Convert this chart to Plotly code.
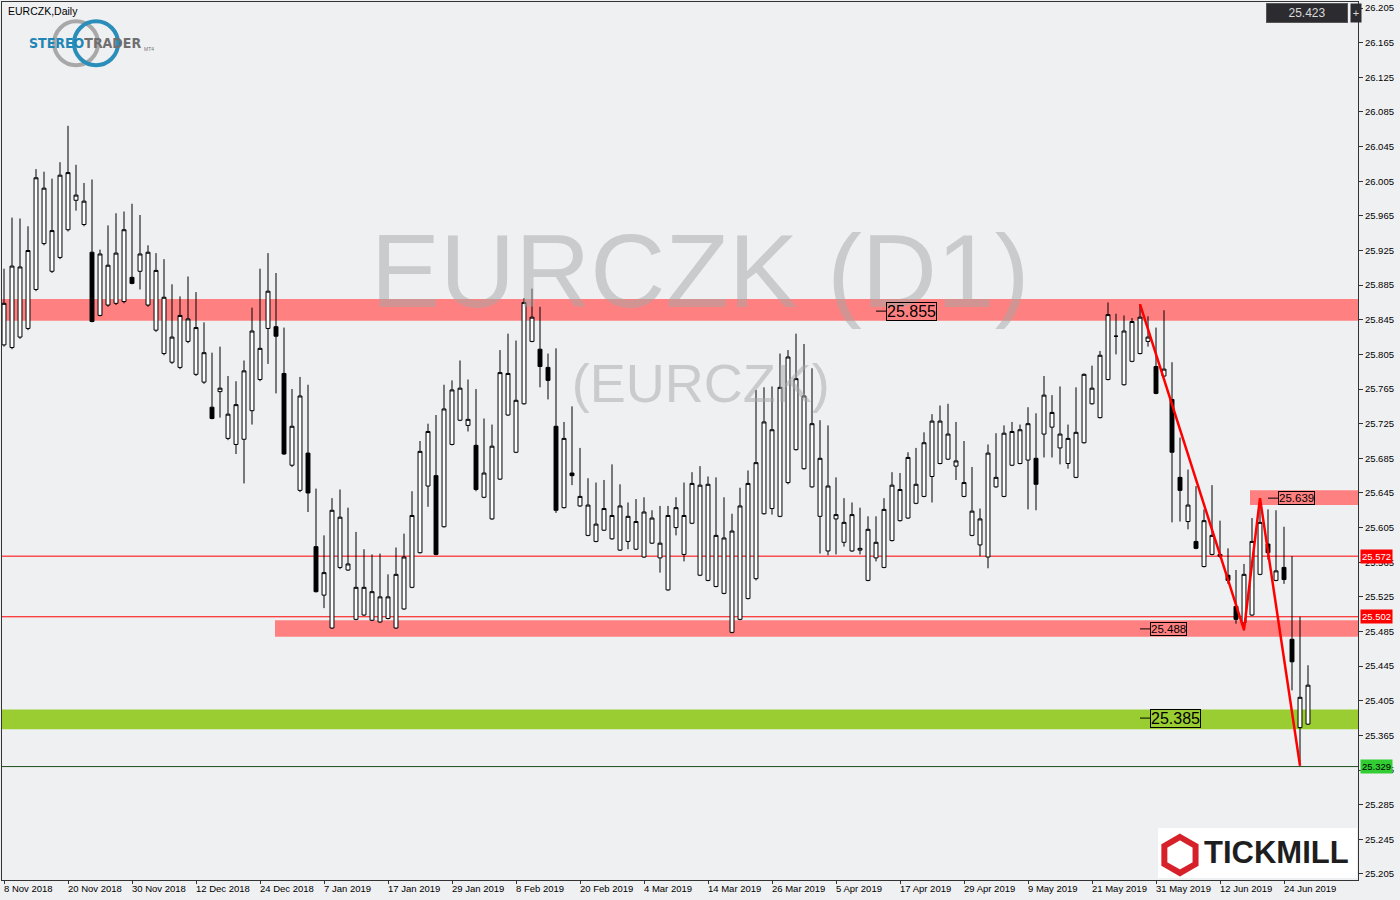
import plotly.graph_objects as go

# ---------------- data (EURCZK daily, 8 Nov 2018 - 27 Jun 2019) ----------------
open_ = [25.816, 25.813, 25.825, 25.835, 25.880, 25.933, 25.901, 25.917, 25.949, 25.983,
         25.955, 25.923, 25.850, 25.862, 25.864, 25.866, 25.894, 25.901, 25.862, 25.833,
         25.806, 25.796, 25.790, 25.820, 25.782, 25.773, 25.744, 25.762, 25.708, 25.701,
         25.707, 25.740, 25.776, 25.835, 25.837, 25.783, 25.677, 25.648, 25.691, 25.583,
         25.527, 25.489, 25.559, 25.556, 25.499, 25.504, 25.498, 25.496, 25.500, 25.489,
         25.511, 25.536, 25.576, 25.653, 25.665, 25.606, 25.701, 25.729, 25.723, 25.700,
         25.640, 25.615, 25.661, 25.735, 25.692, 25.748, 25.820, 25.811, 25.790, 25.722,
         25.628, 25.668, 25.630, 25.596, 25.589, 25.602, 25.592, 25.579, 25.589, 25.580,
         25.571, 25.587, 25.570, 25.533, 25.605, 25.574, 25.610, 25.550, 25.544, 25.537,
         25.529, 25.484, 25.499, 25.523, 25.546, 25.621, 25.627, 25.618, 25.657, 25.695,
         25.673, 25.652, 25.618, 25.578, 25.615, 25.588, 25.578, 25.579, 25.544, 25.570,
         25.559, 25.590, 25.613, 25.616, 25.633, 25.641, 25.664, 25.679, 25.684, 25.676,
         25.641, 25.596, 25.585, 25.571, 25.652, 25.641, 25.677, 25.679, 25.683, 25.685,
         25.713, 25.721, 25.697, 25.679, 25.663, 25.703, 25.748, 25.732, 25.776, 25.826,
         25.770, 25.797, 25.806, 25.820, 25.791, 25.780, 25.753, 25.663, 25.612, 25.589,
         25.560, 25.574, 25.574, 25.550, 25.514, 25.495, 25.504, 25.551, 25.586, 25.544,
         25.559, 25.476, 25.374, 25.378]
high = [25.904, 25.963, 25.962, 25.953, 26.019, 26.016, 26.008, 26.027, 26.069, 26.024,
        26.003, 26.007, 25.926, 25.954, 25.968, 25.970, 25.979, 25.966, 25.931, 25.922,
        25.915, 25.886, 25.872, 25.895, 25.877, 25.842, 25.807, 25.814, 25.780, 25.774,
        25.798, 25.859, 25.904, 25.922, 25.899, 25.836, 25.765, 25.779, 25.770, 25.650,
        25.596, 25.639, 25.649, 25.628, 25.600, 25.580, 25.574, 25.575, 25.551, 25.582,
        25.598, 25.647, 25.705, 25.725, 25.735, 25.770, 25.775, 25.798, 25.776, 25.765,
        25.731, 25.724, 25.810, 25.829, 25.821, 25.870, 25.881, 25.860, 25.806, 25.812,
        25.727, 25.745, 25.697, 25.662, 25.657, 25.660, 25.678, 25.655, 25.634, 25.638,
        25.640, 25.625, 25.630, 25.630, 25.640, 25.657, 25.669, 25.676, 25.664, 25.663,
        25.640, 25.621, 25.651, 25.671, 25.764, 25.767, 25.768, 25.806, 25.810, 25.829,
        25.817, 25.789, 25.729, 25.723, 25.663, 25.639, 25.634, 25.628, 25.618, 25.618,
        25.639, 25.669, 25.668, 25.692, 25.697, 25.715, 25.736, 25.746, 25.748, 25.727,
        25.705, 25.675, 25.627, 25.701, 25.714, 25.723, 25.727, 25.724, 25.744, 25.737,
        25.780, 25.758, 25.768, 25.724, 25.767, 25.783, 25.792, 25.809, 25.865, 25.852,
        25.850, 25.847, 25.863, 25.849, 25.836, 25.856, 25.796, 25.709, 25.672, 25.653,
        25.626, 25.654, 25.613, 25.581, 25.556, 25.563, 25.616, 25.639, 25.626, 25.625,
        25.606, 25.572, 25.502, 25.446]
low = [25.814, 25.811, 25.823, 25.833, 25.878, 25.931, 25.899, 25.915, 25.947, 25.971,
       25.953, 25.842, 25.849, 25.860, 25.862, 25.864, 25.886, 25.880, 25.860, 25.831,
       25.804, 25.794, 25.788, 25.818, 25.780, 25.771, 25.730, 25.732, 25.706, 25.690,
       25.656, 25.724, 25.774, 25.794, 25.760, 25.689, 25.675, 25.646, 25.623, 25.530,
       25.512, 25.488, 25.557, 25.555, 25.498, 25.503, 25.497, 25.495, 25.499, 25.488,
       25.510, 25.535, 25.575, 25.629, 25.573, 25.605, 25.700, 25.728, 25.716, 25.647,
       25.639, 25.614, 25.660, 25.734, 25.691, 25.747, 25.819, 25.767, 25.753, 25.622,
       25.627, 25.654, 25.629, 25.595, 25.588, 25.601, 25.591, 25.578, 25.580, 25.579,
       25.570, 25.586, 25.553, 25.532, 25.596, 25.566, 25.609, 25.549, 25.543, 25.536,
       25.528, 25.483, 25.498, 25.522, 25.544, 25.620, 25.620, 25.617, 25.655, 25.694,
       25.672, 25.651, 25.575, 25.573, 25.574, 25.583, 25.577, 25.574, 25.543, 25.566,
       25.558, 25.589, 25.612, 25.615, 25.632, 25.640, 25.634, 25.678, 25.683, 25.660,
       25.640, 25.595, 25.572, 25.558, 25.651, 25.640, 25.676, 25.678, 25.626, 25.625,
       25.686, 25.686, 25.678, 25.673, 25.662, 25.702, 25.747, 25.731, 25.775, 25.805,
       25.769, 25.796, 25.805, 25.814, 25.759, 25.779, 25.611, 25.612, 25.603, 25.580,
       25.559, 25.573, 25.570, 25.540, 25.494, 25.486, 25.503, 25.550, 25.568, 25.543,
       25.540, 25.417, 25.330, 25.377]
close = [25.864, 25.907, 25.906, 25.925, 26.009, 25.997, 25.948, 26.012, 26.015, 25.989,
         25.982, 25.843, 25.921, 25.908, 25.922, 25.949, 25.887, 25.921, 25.923, 25.902,
         25.871, 25.825, 25.850, 25.846, 25.836, 25.807, 25.731, 25.766, 25.736, 25.747,
         25.786, 25.832, 25.812, 25.878, 25.826, 25.690, 25.722, 25.757, 25.645, 25.531,
         25.553, 25.625, 25.617, 25.563, 25.536, 25.536, 25.531, 25.525, 25.525, 25.551,
         25.571, 25.619, 25.693, 25.716, 25.574, 25.742, 25.764, 25.766, 25.730, 25.649,
         25.668, 25.699, 25.784, 25.783, 25.752, 25.865, 25.848, 25.791, 25.775, 25.625,
         25.708, 25.665, 25.641, 25.631, 25.609, 25.627, 25.619, 25.630, 25.618, 25.612,
         25.623, 25.616, 25.587, 25.619, 25.628, 25.619, 25.656, 25.654, 25.655, 25.596,
         25.593, 25.601, 25.630, 25.656, 25.680, 25.727, 25.718, 25.767, 25.802, 25.777,
         25.757, 25.725, 25.685, 25.653, 25.620, 25.611, 25.620, 25.581, 25.603, 25.588,
         25.626, 25.654, 25.649, 25.686, 25.655, 25.703, 25.728, 25.728, 25.713, 25.682,
         25.657, 25.624, 25.615, 25.691, 25.663, 25.714, 25.716, 25.718, 25.725, 25.655,
         25.758, 25.738, 25.713, 25.708, 25.715, 25.782, 25.766, 25.804, 25.851, 25.826,
         25.832, 25.843, 25.848, 25.825, 25.760, 25.788, 25.692, 25.648, 25.631, 25.581,
         25.613, 25.596, 25.572, 25.544, 25.499, 25.551, 25.589, 25.611, 25.576, 25.555,
         25.545, 25.450, 25.409, 25.423]

# date labels (every 8th trading day)
date_label_index = [0, 8, 16, 24, 32, 40, 48, 56, 64, 72, 80, 88, 96, 104, 112, 120, 128, 136, 144, 152, 160]
date_labels = ["8 Nov 2018", "20 Nov 2018", "30 Nov 2018", "12 Dec 2018", "24 Dec 2018", "7 Jan 2019",
               "17 Jan 2019", "29 Jan 2019", "8 Feb 2019", "20 Feb 2019", "4 Mar 2019", "14 Mar 2019",
               "26 Mar 2019", "5 Apr 2019", "17 Apr 2019", "29 Apr 2019", "9 May 2019", "21 May 2019",
               "31 May 2019", "12 Jun 2019", "24 Jun 2019"]

price_ticks = [25.205, 25.245, 25.285, 25.325, 25.365, 25.405, 25.445, 25.485, 25.525, 25.565,
               25.605, 25.645, 25.685, 25.725, 25.765, 25.805, 25.845, 25.885, 25.925, 25.965,
               26.005, 26.045, 26.085, 26.125, 26.165, 26.205]
price_tick_text = ["%.3f" % v for v in price_ticks]

# support / resistance zones (low, high)
zone_top = (25.844, 25.869)
zone_mid = (25.479, 25.498)
zone_small = (25.631, 25.648)
zone_green = (25.372, 25.395)
red_lines = [25.572, 25.502]
green_line = 25.329
last_price = 25.423

# trend line points (candle index, price)
trend_x = [142, 155, 157, 162]
trend_y = [25.863, 25.487, 25.639, 25.330]

x_idx = list(range(len(close)))

X_MIN, X_MAX = -0.25, 169.25
Y_MIN, Y_MAX = 25.198, 26.212

BG = "#EFF0F2"
FONT = "Liberation Sans"

fig = go.Figure()

# watermark (below candles)
fig.add_trace(go.Scatter(x=[87], y=[25.890], mode="text", text=["EURCZK (D1)"],
                         textfont=dict(family=FONT, size=104, color="rgba(165,165,165,0.5)"),
                         hoverinfo="skip", showlegend=False))
fig.add_trace(go.Scatter(x=[87.1], y=[25.766], mode="text", text=["(EURCZK)"],
                         textfont=dict(family=FONT, size=54, color="rgba(165,165,165,0.5)"),
                         hoverinfo="skip", showlegend=False))

fig.add_trace(go.Candlestick(
    x=x_idx, open=open_, high=high, low=low, close=close,
    increasing=dict(line=dict(color="black", width=1), fillcolor="white"),
    decreasing=dict(line=dict(color="black", width=1), fillcolor="black"),
    whiskerwidth=0, showlegend=False, hoverinfo="skip"))

fig.add_trace(go.Scatter(x=trend_x, y=trend_y, mode="lines",
                         line=dict(color="#FF0000", width=2.5),
                         hoverinfo="skip", showlegend=False))

shapes = []
# zones
shapes.append(dict(type="rect", xref="x", yref="y", x0=X_MIN, x1=X_MAX, y0=zone_top[0], y1=zone_top[1],
                   fillcolor="#FF8080", line=dict(width=0), layer="below"))
shapes.append(dict(type="rect", xref="x", yref="y", x0=33.875, x1=X_MAX, y0=zone_mid[0], y1=zone_mid[1],
                   fillcolor="#FF8080", line=dict(width=0), layer="below"))
shapes.append(dict(type="rect", xref="x", yref="y", x0=155.75, x1=X_MAX, y0=zone_small[0], y1=zone_small[1],
                   fillcolor="#FF8080", line=dict(width=0), layer="below"))
shapes.append(dict(type="rect", xref="x", yref="y", x0=X_MIN, x1=X_MAX, y0=zone_green[0], y1=zone_green[1],
                   fillcolor="#9ACD32", line=dict(width=0), layer="below"))
for v in red_lines:
    shapes.append(dict(type="line", xref="x", yref="y", x0=X_MIN, x1=X_MAX, y0=v, y1=v,
                       line=dict(color="#FF0000", width=1), layer="below"))
shapes.append(dict(type="line", xref="x", yref="y", x0=X_MIN, x1=X_MAX, y0=green_line, y1=green_line,
                   line=dict(color="#1E4D1E", width=1), layer="below"))

# level labels with leader lines
level_labels = [
    (109.0, 110.25, 25.855, "25.855", 16),
    (142.0, 143.25, 25.488, "25.488", 11.5),
    (158.0, 159.25, 25.639, "25.639", 11.5),
    (142.0, 143.25, 25.385, "25.385", 16),
]
annotations = []
for x0, x1, yv, txt, fs in level_labels:
    shapes.append(dict(type="line", xref="x", yref="y", x0=x0, x1=x1, y0=yv, y1=yv,
                       line=dict(color="black", width=1)))
    annotations.append(dict(x=x1, y=yv, xref="x", yref="y", text=txt, showarrow=False,
                            xanchor="left", yanchor="middle", font=dict(family=FONT, size=fs, color="black"),
                            bordercolor="black", borderwidth=1, borderpad=0))

# right axis price boxes
for yv, bg, fc in [(25.572, "#FF0000", "white"), (25.502, "#FF0000", "white"), (25.329, "#32CD32", "black")]:
    annotations.append(dict(x=1, y=yv, xref="paper", yref="y", text="%.3f" % yv, showarrow=False,
                            xanchor="left", yanchor="middle", xshift=2,
                            font=dict(family=FONT, size=9.5, color=fc), bgcolor=bg, borderpad=1))

# date labels
for i, t in zip(date_label_index, date_labels):
    annotations.append(dict(x=i, y=0, xref="x", yref="paper", text=t, showarrow=False,
                            xanchor="left", yanchor="top", xshift=-2, yshift=-1,
                            font=dict(family=FONT, size=9.5, color="black")))

# title
annotations.append(dict(x=0, y=1, xref="paper", yref="paper", text="EURCZK,Daily", showarrow=False,
                        xanchor="left", yanchor="top", xshift=4, yshift=-1,
                        font=dict(family=FONT, size=10.5, color="black")))

# top-right price box
annotations.append(dict(x=0.9627, y=0.9875, xref="paper", yref="paper", text="25.423", showarrow=False,
                        xanchor="center", yanchor="middle", width=78, height=16,
                        font=dict(family=FONT, size=12, color="#DADADA"),
                        bgcolor="#2C2C30", bordercolor="#555555", borderwidth=1))
annotations.append(dict(x=0.9985, y=0.9875, xref="paper", yref="paper", text="+", showarrow=False,
                        xanchor="center", yanchor="middle", width=8, height=16,
                        font=dict(family=FONT, size=11, color="#DADADA"), bgcolor="#2C2C30"))

# StereoTrader logo
shapes.append(dict(type="circle", xref="paper", yref="paper", x0=0.0384, x1=0.0708, y0=0.928, y1=0.978,
                   line=dict(color="#A8A8A8", width=4)))
shapes.append(dict(type="circle", xref="paper", yref="paper", x0=0.0531, x1=0.0856, y0=0.928, y1=0.978,
                   line=dict(color="#2B8DBA", width=4)))
annotations.append(dict(x=0.0185, y=0.953, xref="paper", yref="paper",
                        text="<b><span style='color:#1F86B5'>STEREO</span><span style='color:#6F6F6F'>TRADER</span></b>",
                        showarrow=False, xanchor="left", yanchor="middle",
                        font=dict(family="DejaVu Sans Condensed, Roboto, Liberation Sans", size=14)))
annotations.append(dict(x=0.1035, y=0.946, xref="paper", yref="paper", text="MT4", showarrow=False,
                        xanchor="left", yanchor="middle", font=dict(family=FONT, size=5, color="#777")))

# Tickmill logo
shapes.append(dict(type="rect", xref="paper", yref="paper", x0=0.8525, x1=0.9993, y0=0.0023, y1=0.0592,
                   fillcolor="white", line=dict(width=0)))
hexpath = "M 0.8687 0.0490 L 0.8802 0.0387 L 0.8802 0.0182 L 0.8687 0.0080 L 0.8572 0.0182 L 0.8572 0.0387 Z"
shapes.append(dict(type="path", xref="paper", yref="paper", path=hexpath,
                   fillcolor="white", line=dict(color="#D6202A", width=6)))
annotations.append(dict(x=0.9397, y=0.031, xref="paper", yref="paper", text="<b>TICKMILL</b>", showarrow=False,
                        xanchor="center", yanchor="middle", font=dict(family=FONT, size=31, color="#1E1E1E")))

fig.update_layout(
    width=1400, height=900,
    margin=dict(l=2, r=42, t=2, b=20),
    paper_bgcolor=BG, plot_bgcolor=BG,
    shapes=shapes, annotations=annotations,
    showlegend=False,
    xaxis=dict(range=[X_MIN, X_MAX], showgrid=False, zeroline=False, rangeslider=dict(visible=False),
               showline=True, linecolor="#333333", linewidth=1, mirror=True,
               tickvals=date_label_index, ticks="outside", ticklen=3, tickcolor="#333333",
               showticklabels=False, fixedrange=True),
    yaxis=dict(range=[Y_MIN, Y_MAX], side="right", showgrid=False, zeroline=False,
               showline=True, linecolor="#333333", linewidth=1, mirror=True,
               tickvals=price_ticks, ticktext=price_tick_text, ticks="outside", ticklen=4,
               tickcolor="#333333", tickfont=dict(family=FONT, size=9.5, color="black"), fixedrange=True),
)

fig.write_html("out.html", config={"displayModeBar": False},
               post_script="document.body.style.margin='0';document.body.style.overflow='hidden';")
